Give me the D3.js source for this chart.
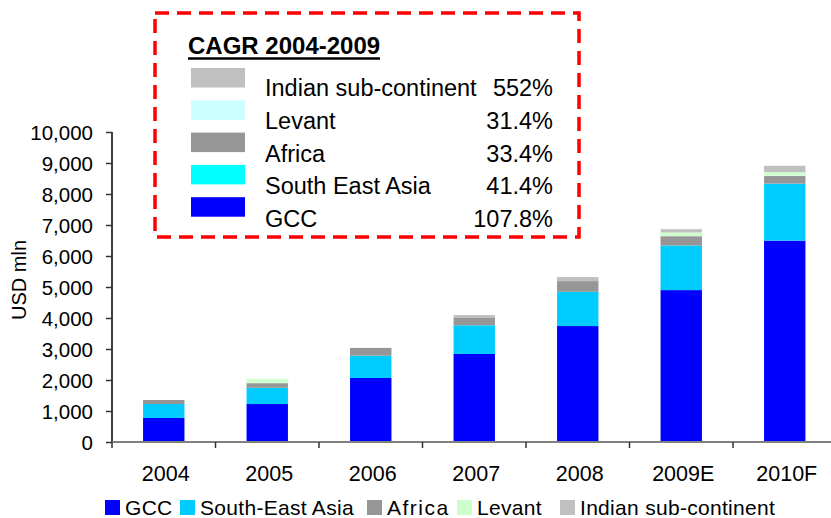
<!DOCTYPE html>
<html>
<head>
<meta charset="utf-8">
<script src="https://cdn.jsdelivr.net/npm/d3@7"></script>
<style>
  body { margin: 0; background: #fff; }
  svg { display: block; font-family: Arial, "Liberation Sans", sans-serif; }
</style>
</head>
<body>
<svg id="chart" width="831" height="518"></svg>
<script>
const categories = ["2004", "2005", "2006", "2007", "2008", "2009E", "2010F"];
const gcc    = [775, 1225, 2065, 2840, 3740, 4900, 6495];
const sea    = [450, 525, 720, 925, 1105, 1440, 1840];
const africa = [130, 160, 250, 235, 345, 310, 260];
const levant = [0, 120, 0, 0, 0, 110, 110];
const indian = [0, 0, 0, 95, 130, 105, 205];

const seriesKeys  = ["GCC", "South-East Asia", "Africa", "Levant", "Indian sub-continent"];
const seriesColor = ["#0000ff", "#00ccff", "#969696", "#ccffcc", "#c0c0c0"];
const yTicks = [0, 1000, 2000, 3000, 4000, 5000, 6000, 7000, 8000, 9000, 10000];

// CAGR inset (top to bottom as drawn)
const cagrLabels = ["Indian sub-continent", "Levant", "Africa", "South East Asia", "GCC"];
const cagrValues = ["552%", "31.4%", "33.4%", "41.4%", "107.8%"];
const cagrColors = ["#c0c0c0", "#ccffff", "#969696", "#00ffff", "#0000ff"];

const rows = categories.map((c, i) => ({
  cat: c, "GCC": gcc[i], "South-East Asia": sea[i], "Africa": africa[i],
  "Levant": levant[i], "Indian sub-continent": indian[i]
}));

const svg = d3.select("#chart");
const x = d3.scaleBand().domain(categories).range([112, 836.5]).paddingInner(0.6).paddingOuter(0.3);
const y = d3.scaleLinear().domain([0, 10000]).range([442, 132]);

const stacked = d3.stack().keys(seriesKeys)(rows);

const gBars = svg.append("g");
stacked.forEach((s, si) => {
  gBars.append("g").attr("fill", seriesColor[si])
    .selectAll("rect").data(s.filter(d => d[1] > d[0])).enter().append("rect")
    .attr("x", d => x(d.data.cat))
    .attr("y", d => y(d[1]))
    .attr("width", x.bandwidth())
    .attr("height", d => y(d[0]) - y(d[1]))
    .attr("stroke", seriesKeys[si] === "Levant" ? "#ddffdd" : "none")
    .attr("stroke-width", 1);
});

// y axis
const yAxis = svg.append("g").attr("transform", "translate(112,0)")
  .call(d3.axisLeft(y).tickValues(yTicks).tickSize(6).tickPadding(13).tickFormat(d3.format(",")));
yAxis.select(".domain").attr("stroke", "#000").attr("stroke-width", 1.5).attr("d", "M0,132V442");
yAxis.selectAll(".tick line").attr("stroke", "#333").attr("stroke-width", 1.5);
yAxis.selectAll("text").attr("font-size", 20.5).attr("fill", "#000").attr("dy", "0.35em");

// x axis
svg.append("line").attr("x1", 112).attr("x2", 831).attr("y1", 442).attr("y2", 442)
  .attr("stroke", "#808080").attr("stroke-width", 2);
const bounds = d3.range(categories.length).map(i => x.range()[0] + i * x.step());
svg.append("g").selectAll("line").data(bounds).enter().append("line")
  .attr("x1", d => d).attr("x2", d => d).attr("y1", 442).attr("y2", 448)
  .attr("stroke", "#333").attr("stroke-width", 1.5);
svg.append("g").selectAll("text").data(categories).enter().append("text")
  .attr("x", d => x(d) + x.bandwidth() / 2 + 2)
  .attr("y", 481)
  .attr("text-anchor", "middle").attr("font-size", 21.5).text(d => d);

// y title
svg.append("text").attr("transform", "translate(26,280) rotate(-90)")
  .attr("text-anchor", "middle").attr("font-size", 20).text("USD mln");

// bottom legend
const legX = [105, 180, 367, 457, 560];
const leg = svg.append("g");
seriesKeys.forEach((k, i) => {
  leg.append("rect").attr("x", legX[i]).attr("y", 500).attr("width", 15).attr("height", 15)
    .attr("fill", seriesColor[i]);
  leg.append("text").attr("x", legX[i] + 20).attr("y", 515).attr("font-size", 21)
    .attr("letter-spacing", k === "Africa" ? 1.5 : 0.3).text(k);
});

// CAGR inset
const inset = svg.append("g");
inset.append("rect").attr("x", 155).attr("y", 13).attr("width", 424).attr("height", 224)
  .attr("fill", "none").attr("stroke", "#ff0000").attr("stroke-width", 3.5)
  .attr("stroke-dasharray", "14,8");
inset.append("text").attr("x", 188).attr("y", 54).attr("font-size", 24)
  .attr("font-weight", "bold").text("CAGR 2004-2009");
inset.append("line").attr("x1", 188).attr("x2", 380).attr("y1", 58.5).attr("y2", 58.5)
  .attr("stroke", "#000").attr("stroke-width", 2.5);
cagrLabels.forEach((l, i) => {
  inset.append("rect").attr("x", 191).attr("y", 68 + i * 32.3).attr("width", 54).attr("height", 19.5)
    .attr("fill", cagrColors[i]);
  inset.append("text").attr("x", 265).attr("y", 96 + i * 32.8).attr("font-size", 23.5).text(l);
  inset.append("text").attr("x", 553).attr("y", 96 + i * 32.8).attr("font-size", 23.5)
    .attr("text-anchor", "end").text(cagrValues[i]);
});
</script>
</body>
</html>
